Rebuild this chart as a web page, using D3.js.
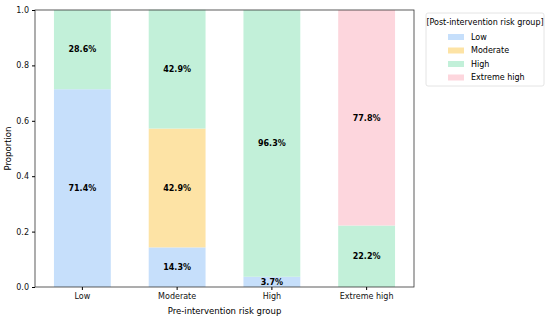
<!DOCTYPE html>
<html>
<head>
<meta charset="utf-8">
<script src="https://cdn.jsdelivr.net/npm/d3@7"></script>
<style>
  body { margin: 0; background: #fff; }
  svg text { font-family: "DejaVu Sans", sans-serif; }
</style>
</head>
<body>
<div id="d3"></div>
<script>
const categories = ["Low", "Moderate", "High", "Extreme high"];
const groups = ["Low", "Moderate", "High", "Extreme high"];
const low = [71.4, 14.3, 3.7, 0];
const moderate = [0, 42.9, 0, 0];
const high = [28.6, 42.9, 96.3, 22.2];
const extremeHigh = [0, 0, 0, 77.8];
const yTicks = [0, 0.2, 0.4, 0.6, 0.8, 1.0];
const colors = ["#c6dffb", "#fde3a5", "#c2f0d9", "#fdd6dd"];

const width = 550;
const height = 322;
const margin = { left: 35, top: 10, right: 136, bottom: 35 };

const svg = d3
  .select("#d3")
  .append("svg")
  .attr("width", width)
  .attr("height", height);

const rows = categories.map((c, i) => ({
  category: c,
  "Low": low[i] / 100,
  "Moderate": moderate[i] / 100,
  "High": high[i] / 100,
  "Extreme high": extremeHigh[i] / 100,
}));

const stacked = d3.stack().keys(groups)(rows);

const x = d3
  .scaleBand()
  .domain(categories)
  .range([margin.left, width - margin.right])
  .paddingInner(0.4)
  .paddingOuter(0.2);

const y = d3
  .scaleLinear()
  .domain([0, 1])
  .range([height - margin.bottom, margin.top]);

// bars
stacked.forEach((layer, k) => {
  svg
    .append("g")
    .selectAll("rect")
    .data(layer)
    .enter()
    .append("rect")
    .attr("fill", colors[k])
    .attr("x", (d) => x(d.data.category))
    .attr("width", x.bandwidth())
    .attr("y", (d) => y(d[1]))
    .attr("height", (d) => y(d[0]) - y(d[1]));

  // labels
  svg
    .append("g")
    .selectAll("text")
    .data(layer.filter((d) => d[1] - d[0] > 0))
    .enter()
    .append("text")
    .attr("x", (d) => x(d.data.category) + x.bandwidth() / 2)
    .attr("y", (d) => y((d[0] + d[1]) / 2))
    .attr("dy", "0.35em")
    .attr("text-anchor", "middle")
    .style("font-size", "8px")
    .style("font-weight", "bold")
    .text((d) => ((d[1] - d[0]) * 100).toFixed(1) + "%");
});

// frame
svg
  .append("rect")
  .attr("x", margin.left)
  .attr("y", margin.top)
  .attr("width", width - margin.right - margin.left)
  .attr("height", height - margin.bottom - margin.top)
  .attr("fill", "none")
  .attr("stroke", "#333")
  .attr("stroke-width", 0.8);

// axes
const xAxis = svg
  .append("g")
  .attr("transform", `translate(0,${height - margin.bottom})`)
  .call(d3.axisBottom(x).tickSize(3).tickPadding(3));
xAxis.select(".domain").remove();
xAxis.selectAll("text").style("font-size", "8px").attr("fill", "#111");

const yAxis = svg
  .append("g")
  .attr("transform", `translate(${margin.left},0)`)
  .call(d3.axisLeft(y).tickValues(yTicks).tickFormat(d3.format(".1f")).tickSize(3).tickPadding(3));
yAxis.select(".domain").remove();
yAxis.selectAll("text").style("font-size", "8px").attr("fill", "#111");

// axis titles
svg
  .append("text")
  .attr("x", (margin.left + width - margin.right) / 2)
  .attr("y", 314)
  .attr("text-anchor", "middle")
  .style("font-size", "8.5px")
  .text("Pre-intervention risk group");

svg
  .append("text")
  .attr("transform", `translate(11,${(margin.top + height - margin.bottom) / 2}) rotate(-90)`)
  .attr("text-anchor", "middle")
  .style("font-size", "8.5px")
  .text("Proportion");

// ------
// LEGEND
// ------
const legend = svg.append("g").attr("transform", "translate(426,13)");
legend
  .append("rect")
  .attr("width", 118)
  .attr("height", 73)
  .attr("rx", 2)
  .attr("fill", "#fff")
  .attr("stroke", "#ddd")
  .attr("stroke-width", 0.8);
legend
  .append("text")
  .attr("x", 59)
  .attr("y", 12)
  .attr("text-anchor", "middle")
  .style("font-size", "8px")
  .text("[Post-intervention risk group]");

groups.forEach((g, i) => {
  const row = legend.append("g").attr("transform", `translate(22,${22 + i * 13.5})`);
  row.append("rect").attr("width", 16).attr("height", 6).attr("y", -1).attr("fill", colors[i]);
  row
    .append("text")
    .attr("x", 23)
    .attr("y", 2)
    .attr("dy", "0.35em")
    .style("font-size", "8px")
    .text(g);
});
</script>
</body>
</html>
